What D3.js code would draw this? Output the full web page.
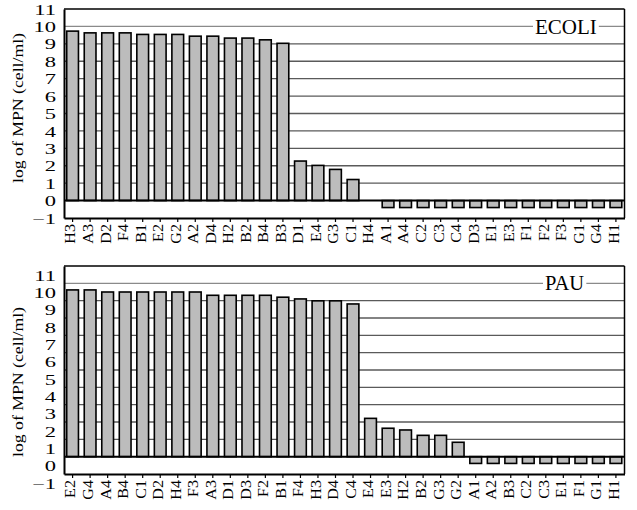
<!DOCTYPE html>
<html>
<head>
<meta charset="utf-8">
<script src="https://cdn.jsdelivr.net/npm/d3@7"></script>
<style>
  html, body { margin: 0; padding: 0; background: #fff; }
  svg { display: block; }
  text { font-family: "Liberation Serif", "Times New Roman", serif; fill: #000; }
</style>
</head>
<body>
<svg id="chart" width="637" height="510"></svg>
<script>
// ---- data ----
const yTicks = [-1, 0, 1, 2, 3, 4, 5, 6, 7, 8, 9, 10, 11];
const gridValues = [1, 2, 3, 4, 5, 6, 7, 8, 9, 10];

const ecoliCategories = ["H3","A3","D2","F4","B1","E2","G2","A2","D4","H2","B2","B4","B3","D1","E4","G3","C1","H4","A1","A4","C2","C3","C4","D3","E1","E3","F1","F2","F3","G1","G4","H1"];
const ecoliValues = [9.73,9.63,9.63,9.63,9.54,9.54,9.54,9.44,9.44,9.33,9.33,9.23,9.03,2.27,2.02,1.79,1.21,0,-0.4,-0.4,-0.4,-0.4,-0.4,-0.4,-0.4,-0.4,-0.4,-0.4,-0.4,-0.4,-0.4,-0.4];

const pauCategories = ["E2","G4","A4","B4","C1","D2","H4","F3","A3","D1","D3","F2","B1","F4","H3","D4","C4","E4","E3","H2","B2","G3","G2","A1","A2","B3","C2","C3","E1","F1","G1","H1"];
const pauValues = [9.62,9.62,9.5,9.5,9.5,9.5,9.5,9.5,9.31,9.31,9.31,9.31,9.2,9.1,8.99,8.99,8.81,2.21,1.64,1.54,1.23,1.23,0.83,-0.39,-0.39,-0.39,-0.39,-0.39,-0.39,-0.39,-0.39,-0.39];

const yTitle = "log of MPN (cell/ml)";

// ---- drawing ----
const svg = d3.select("#chart");

function panel(opts) {
  const { cats, vals, label, top, bottom, left, right, labelShift, titleY, tag } = opts;
  const g = svg.append("g");
  const x = d3.scaleBand().domain(cats).range([left, right]).paddingInner(0.33).paddingOuter(0.155);
  const y = d3.scaleLinear().domain([-1, 11]).range([bottom, top]);

  // gridlines
  g.selectAll("line.grid").data(gridValues).enter().append("line")
    .attr("x1", left).attr("x2", right)
    .attr("y1", d => y(d)).attr("y2", d => y(d))
    .attr("stroke", d => d === 10 ? "#8a8a8a" : "#5a5a5a")
    .attr("stroke-width", 1.3);

  // tag label with white background
  const tx = tag.x, ty = y(10) + tag.dy;
  const t = g.append("text").attr("x", tx).attr("y", ty)
    .style("font-size", tag.size + "px").text(label);
  const bb = t.node().getBBox();
  g.insert("rect", "text").attr("x", bb.x - 2).attr("y", y(10) - 4)
    .attr("width", bb.width + 4).attr("height", 8).attr("fill", "#fff");

  // bars
  g.selectAll("rect.bar").data(cats.map((c, i) => ({ c, v: vals[i] })).filter(d => d.v !== 0))
    .enter().append("rect")
    .attr("class", "bar")
    .attr("x", d => x(d.c))
    .attr("width", x.bandwidth())
    .attr("y", d => y(Math.max(0, d.v)))
    .attr("height", d => Math.abs(y(d.v) - y(0)))
    .attr("fill", "#bcbcbc")
    .attr("stroke", "#000")
    .attr("stroke-width", 1.6);

  // baseline at zero
  g.append("line").attr("x1", left).attr("x2", right)
    .attr("y1", y(0)).attr("y2", y(0)).attr("stroke", "#000").attr("stroke-width", 2);

  // frame top & right
  g.append("line").attr("x1", left).attr("x2", right).attr("y1", top).attr("y2", top)
    .attr("stroke", "#000").attr("stroke-width", 1.5);
  g.append("line").attr("x1", right).attr("x2", right).attr("y1", top).attr("y2", bottom)
    .attr("stroke", "#000").attr("stroke-width", 1.5);

  // x axis
  const xa = g.append("g").attr("transform", `translate(0,${bottom})`)
    .call(d3.axisBottom(x).tickSize(4).tickSizeOuter(0));
  xa.select(".domain").attr("stroke", "#000").attr("stroke-width", 2);
  xa.selectAll(".tick line").attr("stroke", "#000").attr("stroke-width", 1.2);
  xa.selectAll(".tick text")
    .attr("x", 0).attr("y", 0).attr("dy", "0.35em")
    .attr("text-anchor", "end")
    .attr("transform", "translate(-2,6) rotate(-90) scale(1.15,1)")
    .style("font-size", "14px")
    .style("font-family", '"Liberation Serif", serif');

  // y axis
  const ya = g.append("g").attr("transform", `translate(${left},0)`)
    .call(d3.axisLeft(y).tickValues(yTicks).tickSize(0).tickSizeOuter(0));
  ya.select(".domain").attr("stroke", "#000").attr("stroke-width", 2);
  ya.selectAll(".tick text")
    .attr("x", 0).attr("dy", "0.34em")
    .attr("transform", `translate(-8,${labelShift}) scale(1.5,1)`)
    .style("font-size", "15px")
    .style("font-family", '"Liberation Serif", serif');

  // y title
  g.append("text")
    .attr("transform", `translate(23,${titleY}) rotate(-90)`)
    .attr("text-anchor", "middle")
    .attr("textLength", 150).attr("lengthAdjust", "spacingAndGlyphs")
    .style("font-size", "15px")
    .text(yTitle);
}

panel({ cats: ecoliCategories, vals: ecoliValues, label: "ECOLI",
  top: 9, bottom: 218, left: 64, right: 624.5, labelShift: 0, titleY: 108,
  tag: { x: 535, dy: 7.5, size: 21 } });

panel({ cats: pauCategories, vals: pauValues, label: "PAU",
  top: 266, bottom: 474, left: 64, right: 624.5, labelShift: 9, titleY: 382,
  tag: { x: 545, dy: 7, size: 20.5 } });
</script>
</body>
</html>
